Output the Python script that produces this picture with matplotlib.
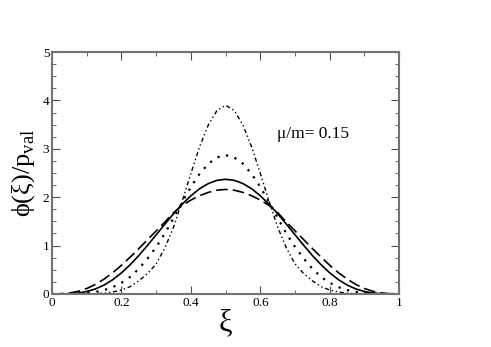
import numpy as np
import matplotlib.pyplot as plt
from matplotlib.ticker import MultipleLocator

plt.rcParams['font.family'] = ['Liberation Serif', 'DejaVu Serif']
plt.rcParams['mathtext.fontset'] = 'custom'
plt.rcParams['mathtext.rm'] = 'Liberation Serif'

xi = np.linspace(0, 1, 41)

# values, xi = 0, 0.025, ..., 1
dashed = [0, 0.003, 0.018, 0.053, 0.112, 0.196, 0.307, 0.439, 0.592, 0.760,
          0.938, 1.121, 1.303, 1.485, 1.680, 1.830, 1.940, 2.030, 2.098, 2.144,
          2.160,
          2.144, 2.098, 2.030, 1.940, 1.830, 1.680, 1.485, 1.303, 1.121, 0.938,
          0.760, 0.592, 0.439, 0.307, 0.196, 0.112, 0.053, 0.018, 0.003, 0]
solid = [0, 0.0003, 0.004, 0.018, 0.049, 0.103, 0.184, 0.294, 0.435, 0.603,
         0.794, 1.003, 1.222, 1.442, 1.656, 1.855, 2.029, 2.174, 2.281, 2.348,
         2.370,
         2.348, 2.281, 2.174, 2.029, 1.855, 1.656, 1.442, 1.222, 1.003, 0.794,
         0.603, 0.435, 0.294, 0.184, 0.103, 0.049, 0.018, 0.004, 0.0003, 0]
dotted = [0, 0, 0.002, 0.007, 0.02, 0.04, 0.08, 0.14, 0.23, 0.35,
          0.52, 0.73, 0.97, 1.25, 1.57, 1.90, 2.21, 2.48, 2.69, 2.82,
          2.87,
          2.82, 2.69, 2.48, 2.21, 1.90, 1.57, 1.25, 0.97, 0.73, 0.52,
          0.35, 0.23, 0.14, 0.08, 0.04, 0.02, 0.007, 0.002, 0, 0]
dashdot = [0, 0, 0, 0, 0.001, 0.005, 0.015, 0.04, 0.08, 0.15,
           0.27, 0.42, 0.62, 0.95, 1.38, 1.92, 2.49, 3.04, 3.49, 3.79,
           3.90,
           3.79, 3.49, 3.04, 2.49, 1.92, 1.38, 0.95, 0.62, 0.42, 0.27,
           0.15, 0.08, 0.04, 0.015, 0.005, 0.001, 0, 0, 0, 0]

fig = plt.figure(figsize=(4.91, 3.47), dpi=100)
ax = fig.add_axes([0.106, 0.153, 0.707, 0.697])

ax.plot(xi, dashdot, color='black', lw=1.0, linestyle=(0, (3, 2, 1, 2, 1, 2)))
ax.plot(xi, dotted, color='black', lw=1.6, linestyle=(0, (1, 3)))
ax.plot(xi, solid, color='black', lw=1.2)
ax.plot(xi, dashed, color='black', lw=1.2, linestyle=(0, (7, 3)))

ax.set_xlim(0, 1)
ax.set_ylim(0, 5)
ax.xaxis.set_major_locator(MultipleLocator(0.2))
ax.xaxis.set_minor_locator(MultipleLocator(0.1))
ax.yaxis.set_major_locator(MultipleLocator(1))
ax.yaxis.set_minor_locator(MultipleLocator(0.25))
ax.set_xticks([0, 0.2, 0.4, 0.6, 0.8, 1.0])
ax.set_xticklabels(['0', '0.2', '0.4', '0.6', '0.8', '1'])
ax.tick_params(which='both', direction='in', top=True, right=True,
               labelsize=9.5, pad=2, color='0.3')
ax.tick_params(which='major', length=6)
ax.tick_params(which='minor', length=3)
for s in ax.spines.values():
    s.set_color('0.45')
    s.set_linewidth(1.5)

ax.set_xlabel('ξ', fontsize=22, labelpad=0)
ax.set_ylabel('\u03d5(ξ)/p$_{\\rm val}$', fontsize=19, labelpad=4)
ax.text(0.648, 3.22, 'μ/m= 0.15', fontsize=12.5)

plt.savefig('out.png', dpi=100)
plt.close()
